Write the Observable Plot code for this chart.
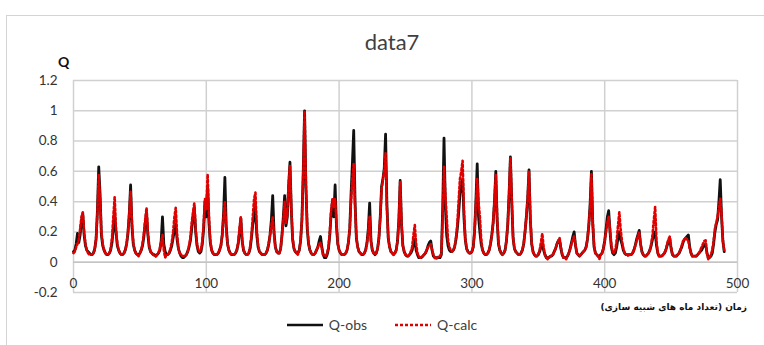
<!DOCTYPE html>
<html>
<head>
<meta charset="utf-8">
<script src="https://cdn.jsdelivr.net/npm/d3@7"></script>
<script src="https://cdn.jsdelivr.net/npm/@observablehq/plot@0.6"></script>
<style>
  html, body { margin: 0; padding: 0; background: #fff; }
  #wrap { position: relative; width: 764px; height: 345px; overflow: hidden; font-family: Lato, "Open Sans", sans-serif; }
  #box { position: absolute; left: 6px; top: 15px; width: 820px; height: 400px; border: 1.5px solid #d4d4d4; box-sizing: border-box; }
  #title { position: absolute; left: 0; width: 784px; top: 28px; text-align: center; font-size: 22px; color: #404040; }
  #qlab { position: absolute; left: 58px; top: 53px; font-size: 14px; font-weight: bold; color: #111; }
  #xlab { position: absolute; right: 17px; top: 302px; font-family: "DejaVu Sans", sans-serif; font-size: 9px; font-weight: bold; color: #111; direction: rtl; white-space: nowrap; }
  #legend { position: absolute; left: 0; width: 764px; top: 316px; display: flex; justify-content: center; align-items: center; font-size: 14px; color: #404040; }
  #legend .item { display: flex; align-items: center; margin: 0 14px; }
  #legend svg { margin-right: 6px; }
  #chart { position: absolute; left: 0; top: 0; }
</style>
</head>
<body>
<div id="wrap">
  <div id="box"></div>
  <div id="chart"></div>
  <div id="title">data7</div>
  <div id="qlab">Q</div>
  <div id="xlab">زمان (تعداد ماه های شبیه سازی)</div>
  <div id="legend"></div>
</div>
<script>
// Monthly discharge, observed (Q-obs) and simulated (Q-calc), months 0..490
const qObs = [
  0.07,0.08,0.12,0.19,0.13,0.18,0.27,0.32,0.18,0.11,
  0.08,0.07,0.06,0.05,0.05,0.06,0.09,0.15,0.34,0.63,
  0.45,0.18,0.11,0.08,0.06,0.05,0.05,0.06,0.08,0.13,
  0.22,0.31,0.20,0.11,0.08,0.06,0.05,0.05,0.06,0.08,
  0.12,0.19,0.32,0.51,0.24,0.12,0.08,0.06,0.05,0.05,
  0.06,0.08,0.11,0.17,0.26,0.33,0.18,0.10,0.07,0.06,
  0.05,0.05,0.04,0.05,0.06,0.08,0.14,0.30,0.12,0.07,
  0.05,0.05,0.06,0.08,0.11,0.16,0.21,0.25,0.15,0.09,
  0.06,0.04,0.03,0.03,0.04,0.05,0.07,0.10,0.14,0.22,
  0.30,0.36,0.20,0.11,0.07,0.06,0.07,0.12,0.22,0.40,
  0.30,0.50,0.26,0.13,0.08,0.06,0.05,0.05,0.05,0.06,
  0.08,0.11,0.18,0.32,0.56,0.24,0.12,0.08,0.06,0.05,
  0.05,0.05,0.06,0.08,0.12,0.20,0.29,0.14,0.08,0.06,
  0.05,0.05,0.06,0.09,0.16,0.25,0.30,0.37,0.18,0.10,
  0.07,0.06,0.05,0.05,0.05,0.06,0.08,0.12,0.18,0.28,
  0.44,0.20,0.10,0.07,0.06,0.06,0.09,0.18,0.30,0.44,
  0.24,0.30,0.50,0.66,0.35,0.15,0.09,0.07,0.06,0.06,
  0.08,0.14,0.28,0.60,1.00,0.50,0.22,0.12,0.08,0.06,
  0.05,0.05,0.06,0.08,0.10,0.14,0.17,0.10,0.05,0.03,
  0.03,0.05,0.09,0.18,0.32,0.40,0.30,0.51,0.24,0.12,
  0.08,0.06,0.05,0.05,0.05,0.06,0.08,0.13,0.22,0.45,
  0.65,0.87,0.40,0.16,0.10,0.07,0.06,0.05,0.05,0.06,
  0.08,0.13,0.22,0.39,0.14,0.08,0.06,0.05,0.06,0.09,
  0.16,0.30,0.50,0.55,0.62,0.845,0.38,0.16,0.10,0.07,
  0.06,0.05,0.06,0.08,0.14,0.28,0.54,0.25,0.11,0.07,
  0.05,0.04,0.04,0.05,0.06,0.08,0.12,0.15,0.08,0.05,
  0.03,0.03,0.03,0.04,0.05,0.06,0.08,0.11,0.13,0.14,
  0.08,0.04,0.03,0.03,0.03,0.03,0.03,0.05,0.35,0.82,
  0.38,0.18,0.11,0.08,0.07,0.07,0.08,0.10,0.15,0.22,
  0.32,0.45,0.50,0.55,0.30,0.15,0.09,0.07,0.06,0.06,
  0.07,0.10,0.20,0.40,0.65,0.30,0.20,0.12,0.08,0.06,
  0.05,0.05,0.06,0.08,0.12,0.18,0.26,0.40,0.60,0.28,
  0.12,0.08,0.06,0.05,0.06,0.08,0.14,0.25,0.45,0.695,
  0.40,0.16,0.09,0.07,0.06,0.05,0.05,0.06,0.08,0.12,
  0.20,0.30,0.42,0.61,0.28,0.12,0.07,0.05,0.04,0.04,
  0.05,0.07,0.10,0.12,0.08,0.05,0.03,0.03,0.03,0.04,
  0.04,0.05,0.07,0.09,0.12,0.14,0.15,0.09,0.05,0.03,
  0.03,0.03,0.04,0.06,0.09,0.13,0.17,0.20,0.11,0.06,
  0.05,0.04,0.05,0.06,0.07,0.08,0.10,0.15,0.24,0.38,
  0.60,0.25,0.10,0.06,0.05,0.04,0.04,0.05,0.06,0.09,
  0.14,0.22,0.30,0.34,0.20,0.10,0.06,0.05,0.06,0.10,
  0.16,0.20,0.15,0.12,0.08,0.06,0.05,0.05,0.05,0.05,
  0.05,0.06,0.08,0.11,0.15,0.18,0.21,0.12,0.07,0.05,
  0.04,0.04,0.05,0.06,0.08,0.11,0.15,0.18,0.20,0.11,
  0.06,0.04,0.04,0.04,0.05,0.06,0.08,0.11,0.14,0.155,
  0.09,0.05,0.04,0.04,0.04,0.05,0.06,0.08,0.10,0.13,
  0.15,0.16,0.17,0.18,0.10,0.06,0.04,0.04,0.04,0.04,
  0.05,0.06,0.07,0.08,0.10,0.11,0.12,0.06,0.03,0.03,
  0.04,0.06,0.12,0.20,0.25,0.28,0.40,0.545,0.30,0.14,
  0.07
];
const qCalc = [
  0.06,0.07,0.10,0.12,0.15,0.22,0.30,0.33,0.20,0.12,
  0.08,0.06,0.05,0.05,0.05,0.06,0.08,0.16,0.32,0.58,
  0.42,0.20,0.12,0.08,0.06,0.05,0.05,0.06,0.09,0.16,
  0.30,0.43,0.22,0.12,0.08,0.06,0.05,0.05,0.06,0.08,
  0.12,0.20,0.32,0.47,0.26,0.13,0.08,0.06,0.05,0.04,
  0.06,0.08,0.12,0.19,0.28,0.36,0.20,0.11,0.07,0.06,
  0.05,0.04,0.04,0.05,0.06,0.09,0.13,0.18,0.08,0.03,
  0.05,0.05,0.06,0.09,0.13,0.20,0.30,0.36,0.18,0.09,
  0.06,0.05,0.04,0.04,0.04,0.05,0.07,0.11,0.16,0.26,
  0.33,0.39,0.22,0.12,0.08,0.07,0.08,0.14,0.25,0.42,
  0.35,0.58,0.30,0.14,0.08,0.06,0.05,0.05,0.05,0.06,
  0.08,0.11,0.18,0.30,0.40,0.22,0.12,0.08,0.06,0.05,
  0.05,0.05,0.06,0.08,0.13,0.22,0.30,0.15,0.08,0.06,
  0.05,0.05,0.06,0.10,0.18,0.30,0.42,0.46,0.22,0.11,
  0.07,0.06,0.05,0.05,0.05,0.06,0.08,0.12,0.18,0.24,
  0.30,0.18,0.10,0.07,0.06,0.06,0.09,0.18,0.28,0.40,
  0.26,0.32,0.52,0.64,0.36,0.16,0.09,0.07,0.06,0.05,
  0.08,0.14,0.28,0.58,1.00,0.52,0.24,0.13,0.08,0.06,
  0.05,0.05,0.06,0.08,0.10,0.12,0.13,0.09,0.05,0.04,
  0.04,0.06,0.10,0.20,0.34,0.42,0.36,0.42,0.26,0.12,
  0.08,0.06,0.05,0.05,0.05,0.06,0.08,0.13,0.22,0.40,
  0.55,0.65,0.38,0.16,0.10,0.07,0.06,0.05,0.05,0.06,
  0.08,0.12,0.20,0.30,0.14,0.08,0.06,0.05,0.06,0.09,
  0.16,0.30,0.48,0.55,0.60,0.72,0.36,0.16,0.10,0.07,
  0.06,0.05,0.06,0.08,0.14,0.28,0.53,0.26,0.11,0.07,
  0.05,0.04,0.04,0.05,0.07,0.10,0.18,0.245,0.12,0.06,
  0.04,0.03,0.03,0.04,0.05,0.06,0.08,0.10,0.11,0.12,
  0.08,0.05,0.03,0.02,0.03,0.04,0.04,0.06,0.30,0.63,
  0.45,0.30,0.15,0.10,0.08,0.07,0.08,0.10,0.16,0.25,
  0.40,0.55,0.60,0.67,0.35,0.16,0.09,0.07,0.06,0.06,
  0.07,0.10,0.20,0.38,0.55,0.40,0.30,0.15,0.08,0.06,
  0.05,0.05,0.06,0.08,0.12,0.18,0.26,0.40,0.58,0.30,
  0.13,0.08,0.06,0.05,0.06,0.08,0.14,0.25,0.45,0.69,
  0.42,0.17,0.09,0.07,0.06,0.05,0.05,0.06,0.08,0.12,
  0.20,0.30,0.42,0.60,0.30,0.13,0.07,0.05,0.04,0.04,
  0.05,0.08,0.13,0.19,0.10,0.05,0.03,0.02,0.03,0.04,
  0.04,0.05,0.07,0.09,0.12,0.14,0.16,0.10,0.05,0.03,
  0.03,0.02,0.04,0.06,0.09,0.12,0.15,0.17,0.12,0.06,
  0.05,0.04,0.05,0.06,0.07,0.08,0.10,0.15,0.24,0.36,
  0.58,0.28,0.11,0.06,0.05,0.04,0.02,0.05,0.06,0.09,
  0.14,0.20,0.26,0.30,0.22,0.11,0.07,0.06,0.08,0.14,
  0.24,0.33,0.22,0.14,0.09,0.06,0.05,0.05,0.04,0.05,
  0.05,0.06,0.08,0.11,0.14,0.17,0.20,0.12,0.07,0.05,
  0.04,0.04,0.05,0.06,0.08,0.12,0.18,0.28,0.365,0.14,
  0.06,0.04,0.04,0.04,0.05,0.06,0.08,0.12,0.15,0.17,
  0.10,0.05,0.04,0.04,0.04,0.05,0.06,0.08,0.11,0.14,
  0.15,0.16,0.15,0.14,0.09,0.06,0.04,0.04,0.04,0.04,
  0.05,0.06,0.08,0.10,0.12,0.14,0.145,0.06,0.02,0.03,
  0.05,0.08,0.14,0.22,0.26,0.30,0.36,0.42,0.32,0.14,
  0.08
];
const xTicks = [0, 100, 200, 300, 400, 500];
const yTicks = [-0.2, 0, 0.2, 0.4, 0.6, 0.8, 1, 1.2];
const seriesNames = ["Q-obs", "Q-calc"];
const seriesColors = ["#111111", "#e00000"];

const rows = qObs.map((v, i) => ({month: i, obs: v, calc: qCalc[i]}));
const fmt = d => String(+d.toFixed(1));
const gridColor = "#d0d0d0";

const chart = Plot.plot({
  width: 764,
  height: 345,
  marginLeft: 73,
  marginRight: 27,
  marginTop: 80,
  marginBottom: 53,
  x: {domain: [0, 500]},
  y: {domain: [-0.2, 1.2]},
  style: {fontFamily: "Lato, 'Open Sans', sans-serif", fontSize: "13.5px", color: "#595959", background: "transparent"},
  marks: [
    Plot.gridY(yTicks, {stroke: gridColor, strokeOpacity: 1, strokeWidth: 1.5}),
    Plot.gridX(xTicks, {stroke: gridColor, strokeOpacity: 1, strokeWidth: 1.5}),
    Plot.ruleY([0], {stroke: "#c4c4c4", strokeWidth: 1.5}),
    Plot.axisY(yTicks, {tickSize: 0, tickPadding: 16, tickFormat: fmt, label: null, fill: "#333333"}),
    Plot.axisX([], {label: null, tickSize: 0}),
    Plot.text(xTicks, {x: d => d, y: 0, dy: 21, text: d => String(d), fill: "#333333"}),
    Plot.line(rows, {x: "month", y: "obs", stroke: seriesColors[0], strokeWidth: 2.8}),
    Plot.line(rows, {x: "month", y: "calc", stroke: seriesColors[1], strokeWidth: 2.6, strokeDasharray: "2.2,2.4"})
  ]
});
document.getElementById("chart").append(chart);

// legend
const legend = document.getElementById("legend");
seriesNames.forEach((name, i) => {
  const item = document.createElement("div");
  item.className = "item";
  const dash = i === 1 ? ' stroke-dasharray="3,2"' : "";
  item.innerHTML = `<svg width="36" height="6"><line x1="0" y1="3" x2="36" y2="3" stroke="${seriesColors[i]}" stroke-width="2.5"${dash}/></svg><span>${name}</span>`;
  legend.append(item);
});
</script>
</body>
</html>
